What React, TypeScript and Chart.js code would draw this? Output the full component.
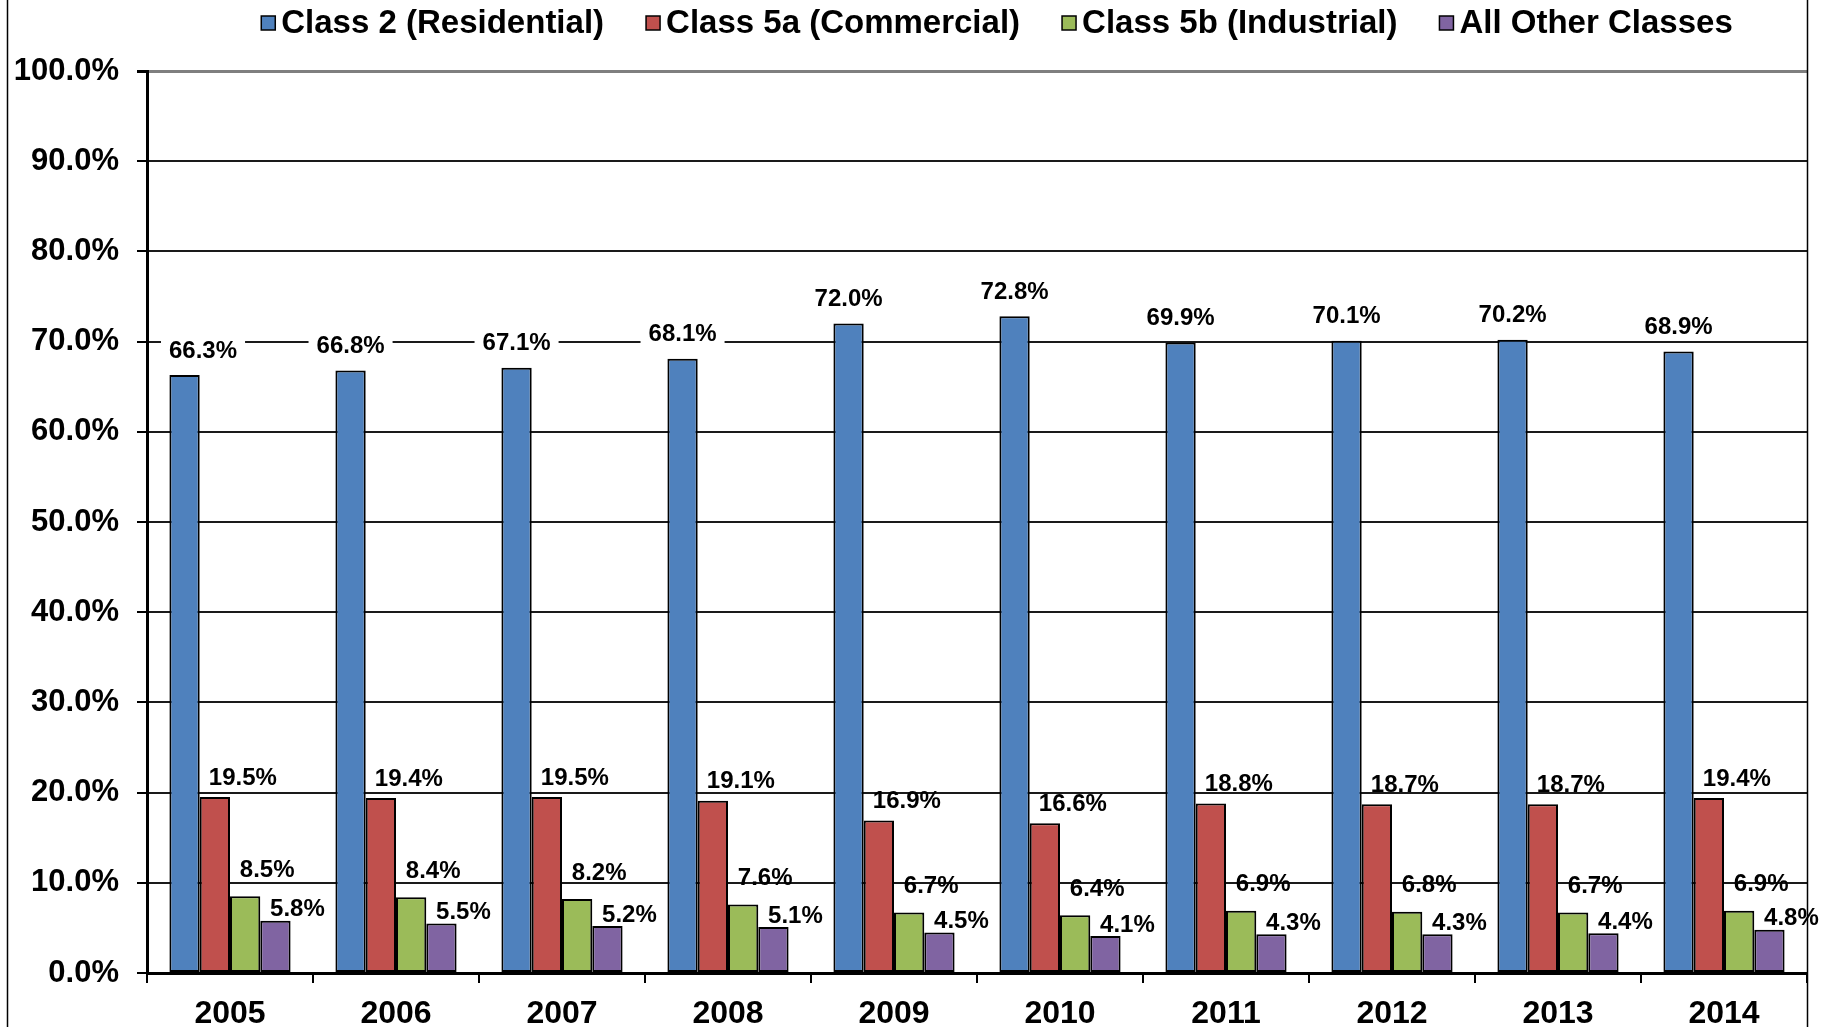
import React, { useEffect, useRef } from "react";
import { Chart, registerables } from "chart.js";

Chart.register(...registerables);

const years = ["2005", "2006", "2007", "2008", "2009", "2010", "2011", "2012", "2013", "2014"];
const seriesNames = ["Class 2 (Residential)", "Class 5a (Commercial)", "Class 5b (Industrial)", "All Other Classes"];
const residential = [66.3, 66.8, 67.1, 68.1, 72.0, 72.8, 69.9, 70.1, 70.2, 68.9];
const commercial = [19.5, 19.4, 19.5, 19.1, 16.9, 16.6, 18.8, 18.7, 18.7, 19.4];
const industrial = [8.5, 8.4, 8.2, 7.6, 6.7, 6.4, 6.9, 6.8, 6.7, 6.9];
const otherClasses = [5.8, 5.5, 5.2, 5.1, 4.5, 4.1, 4.3, 4.3, 4.4, 4.8];
const yMin = 0;
const yMax = 100;
const yStep = 10;

const seriesColors = ["#4F81BD", "#C0504D", "#9BBB59", "#8064A2"];
const FONT = '"Liberation Sans", Arial, Helvetica, sans-serif';

// label placement style per series (offset from bar top)
const labelStyle = [
  { dx: 0, dy: 25, bg: true },
  { dx: 28, dy: 20, bg: false },
  { dx: 22, dy: 27, bg: false },
  { dx: 22, dy: 12, bg: false },
];

const dataLabelPlugin = {
  id: "dataLabels",
  afterDatasetsDraw(chart: any) {
    const ctx = chart.ctx;
    const area = chart.chartArea;
    ctx.save();
    ctx.font = `bold 24px ${FONT}`;
    ctx.textAlign = "center";
    ctx.textBaseline = "middle";
    chart.data.datasets.forEach((ds: any, di: number) => {
      const meta = chart.getDatasetMeta(di);
      const st = labelStyle[di];
      meta.data.forEach((bar: any, i: number) => {
        const v = ds.data[i] as number;
        const text = v.toFixed(1) + "%";
        const w = ctx.measureText(text).width;
        const x = Math.max(bar.x + st.dx, area.left + 22 + w / 2);
        const y = bar.y - st.dy;
        if (st.bg) {
          ctx.save();
          ctx.beginPath();
          ctx.rect(area.left + 2, area.top + 2, area.right - area.left - 4, area.bottom - area.top - 4);
          ctx.clip();
          ctx.fillStyle = "#ffffff";
          ctx.fillRect(x - w / 2 - 8, y - 16, w + 16, 30);
          ctx.restore();
        }
        ctx.fillStyle = "#000000";
        ctx.fillText(text, x, y + 1);
      });
    });
    ctx.restore();
  },
};

const legendPlugin = {
  id: "customLegend",
  afterDraw(chart: any) {
    const ctx = chart.ctx;
    ctx.save();
    ctx.font = `bold 33px ${FONT}`;
    ctx.textBaseline = "middle";
    ctx.textAlign = "left";
    const box = 14;
    const gap = 6;
    const itemGap = 42;
    const items = chart.data.datasets.map((ds: any) => ({
      label: ds.label as string,
      color: ds.backgroundColor as string,
      w: ctx.measureText(ds.label).width,
    }));
    const total = items.reduce((s: number, it: any) => s + box + gap + it.w, 0) + itemGap * (items.length - 1);
    const center = (chart.chartArea.left + chart.chartArea.right) / 2 + 20;
    let x = center - total / 2;
    const y = 23;
    items.forEach((it: any) => {
      ctx.fillStyle = it.color;
      ctx.fillRect(x, y - box / 2, box, box);
      ctx.strokeStyle = "#000";
      ctx.lineWidth = 1.5;
      ctx.strokeRect(x, y - box / 2, box, box);
      ctx.fillStyle = "#000";
      ctx.fillText(it.label, x + box + gap, y + 1);
      x += box + gap + it.w + itemGap;
    });
    ctx.restore();
  },
};

const framePlugin = {
  id: "frame",
  afterDraw(chart: any) {
    const ctx = chart.ctx;
    ctx.save();
    ctx.strokeStyle = "#000";
    ctx.lineWidth = 1.5;
    ctx.beginPath();
    ctx.moveTo(7.5, 0);
    ctx.lineTo(7.5, chart.height);
    const r = Math.round(chart.chartArea.right) + 0.5;
    ctx.moveTo(r, 0);
    ctx.lineTo(r, chart.height);
    ctx.stroke();
    ctx.restore();
  },
};

export default function App() {
  const ref = useRef<HTMLCanvasElement | null>(null);

  useEffect(() => {
    if (!ref.current) return;
    const series = [residential, commercial, industrial, otherClasses];
    const chart = new Chart(ref.current, {
      type: "bar",
      data: {
        labels: years,
        datasets: series.map((d, i) => ({
          label: seriesNames[i],
          data: d,
          backgroundColor: seriesColors[i],
          borderColor: "#000000",
          borderWidth: 2,
          borderSkipped: false,
          categoryPercentage: 0.73,
          barPercentage: 1.0,
        })),
      },
      options: {
        responsive: false,
        animation: false,
        devicePixelRatio: 1,
        layout: { padding: { top: 71, right: 15, left: 0, bottom: 0 } },
        plugins: {
          legend: { display: false },
          tooltip: { enabled: false },
          title: { display: false },
        },
        scales: {
          x: {
            type: "category",
            grid: {
              display: true,
              drawOnChartArea: false,
              drawTicks: true,
              tickLength: 10,
              color: "#000",
              lineWidth: 2,
              offset: true,
            },
            border: { display: true, color: "#000", width: 3 },
            ticks: {
              color: "#000",
              font: { family: FONT, size: 32, weight: "bold" },
              padding: 12,
              maxRotation: 0,
            },
            afterFit: (s: any) => {
              s.height = 54;
            },
          },
          y: {
            min: yMin,
            max: yMax,
            ticks: {
              stepSize: yStep,
              color: "#000",
              font: { family: FONT, size: 31, weight: "bold" },
              padding: 18,
              callback: (v: any) => Number(v).toFixed(1) + "%",
            },
            grid: {
              color: (c: any) => (c.tick && c.tick.value === yMax ? "#7f7f7f" : "#1a1a1a"),
              lineWidth: (c: any) => (c.tick && c.tick.value === yMax ? 3 : 2),
              tickLength: 10,
              tickColor: "#000",
              drawTicks: true,
            },
            border: { display: true, color: "#000", width: 3 },
            afterFit: (s: any) => {
              s.width = 147;
            },
          },
        },
      },
      plugins: [dataLabelPlugin, legendPlugin, framePlugin],
    });
    return () => chart.destroy();
  }, []);

  return (
    <div style={{ position: "absolute", left: 0, top: 0, width: 1822, height: 1027, background: "#fff" }}>
      <canvas ref={ref} width={1822} height={1027} style={{ display: "block" }} />
    </div>
  );
}
